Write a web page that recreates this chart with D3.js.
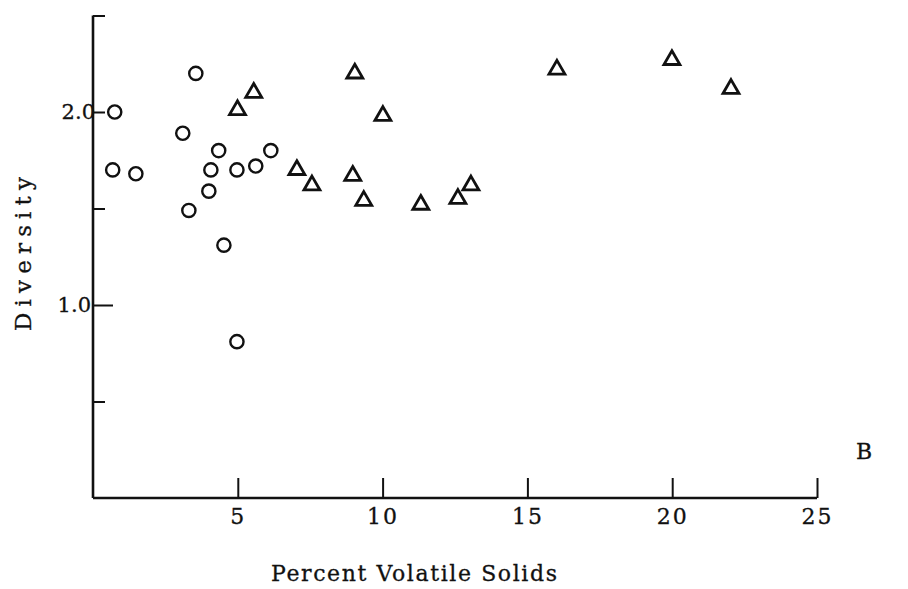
<!DOCTYPE html>
<html>
<head>
<meta charset="utf-8">
<script src="https://cdn.jsdelivr.net/npm/d3@7"></script>
<style>
  body { margin: 0; background: #fff; }
  text { font-family: "DejaVu Serif", "Liberation Serif", serif; fill: #111; stroke: #111; stroke-width: 0.3px; }
</style>
</head>
<body>
<svg id="chart" width="908" height="589"></svg>
<script>
// circles: lower-volatile-solids stations
const circleX = [0.75, 0.68, 1.48, 3.55, 3.10, 3.31, 4.00, 4.07, 4.34, 4.52, 4.97, 5.62, 6.14, 4.97];
const circleY = [2.00, 1.70, 1.68, 2.20, 1.89, 1.49, 1.59, 1.70, 1.80, 1.31, 1.70, 1.72, 1.80, 0.81];

// triangles
const triX = [4.99, 5.55, 9.04, 7.04, 7.56, 8.97, 9.35, 10.01, 11.32, 12.60, 13.05, 16.02, 19.99, 22.03];
const triY = [2.01, 2.10, 2.20, 1.70, 1.62, 1.67, 1.54, 1.98, 1.52, 1.55, 1.62, 2.22, 2.27, 2.12];

const xTicks = [5, 10, 15, 20, 25];
const yTicks = [0.5, 1.0, 1.5, 2.0, 2.5];
const yLabels = [1.0, 2.0];

const svg = d3.select('#chart');
const ink = '#111';

const xScale = d3.scaleLinear().domain([0, 25]).range([93, 817]);
const yScale = d3.scaleLinear().domain([0, 2.5]).range([498, 15.5]);

// x axis, ticks pointing up
const xAxis = d3
  .axisBottom(xScale)
  .tickValues(xTicks)
  .tickFormat(d3.format('d'))
  .tickSizeInner(-20)
  .tickSizeOuter(0)
  .tickPadding(10);

const gx = svg
  .append('g')
  .attr('transform', `translate(0, ${yScale(0)})`)
  .call(xAxis);

gx.select('.domain')
  .attr('d', `M${xScale(0)},0H${xScale(25)}`)
  .attr('stroke', ink)
  .attr('stroke-width', 2.6);
gx.selectAll('.tick line').attr('stroke', ink).attr('stroke-width', 2);
gx.selectAll('.tick text')
  .style('font-size', '22px')
  .style('letter-spacing', '2px')
  .attr('fill', ink);

// y axis, ticks pointing right
const yAxis = d3
  .axisLeft(yScale)
  .tickValues(yTicks)
  .tickFormat((d) => (yLabels.includes(d) ? d3.format('.1f')(d) : ''))
  .tickSizeInner(-12)
  .tickSizeOuter(0)
  .tickPadding(2);

const gy = svg
  .append('g')
  .attr('transform', `translate(${xScale(0)}, 0)`)
  .call(yAxis);

gy.select('.domain')
  .attr('d', `M0,${yScale(2.5)}V${yScale(0)}`)
  .attr('stroke', ink)
  .attr('stroke-width', 2.6);
gy.selectAll('.tick line')
  .attr('stroke', ink)
  .attr('stroke-width', 2)
  .attr('x2', (d) => (d === 1.0 ? 20 : 12));
gy.selectAll('.tick text')
  .style('font-size', '21px')
  .attr('fill', ink)
  .attr('dx', (d) => (d === 2.0 ? 4 : 0));

// points
const circles = circleX.map((x, i) => ({ x, y: circleY[i] }));
const triangles = triX.map((x, i) => ({ x, y: triY[i] }));

svg
  .append('g')
  .selectAll('circle')
  .data(circles)
  .enter()
  .append('circle')
  .attr('cx', (d) => xScale(d.x))
  .attr('cy', (d) => yScale(d.y))
  .attr('r', 6.6)
  .attr('fill', '#fff')
  .attr('stroke', ink)
  .attr('stroke-width', 2.4);

const tri = d3.symbol().type(d3.symbolTriangle).size(110);

svg
  .append('g')
  .selectAll('path')
  .data(triangles)
  .enter()
  .append('path')
  .attr('d', tri)
  .attr('transform', (d) => `translate(${xScale(d.x)}, ${yScale(d.y)})`)
  .attr('fill', '#fff')
  .attr('stroke', ink)
  .attr('stroke-width', 2.8)
  .attr('stroke-linejoin', 'miter');

// titles
svg
  .append('text')
  .attr('x', 271)
  .attr('y', 581)
  .attr('textLength', 286)
  .attr('lengthAdjust', 'spacing')
  .style('font-size', '22px')
  .text('Percent Volatile Solids');

svg
  .append('text')
  .attr('transform', 'translate(31, 331) rotate(-90)')
  .attr('textLength', 154)
  .attr('lengthAdjust', 'spacing')
  .style('font-size', '23px')
  .text('Diversity');

svg
  .append('text')
  .attr('x', 856)
  .attr('y', 459)
  .style('font-size', '22px')
  .text('B');
</script>
</body>
</html>
